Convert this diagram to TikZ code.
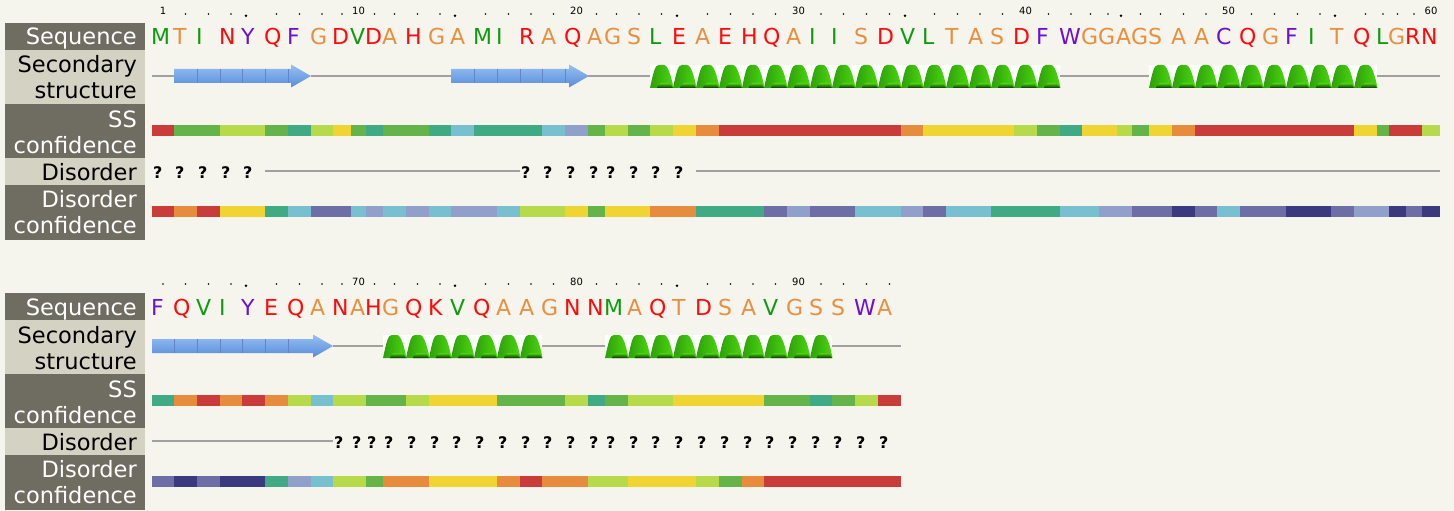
\documentclass[tikz,border=0pt]{standalone}
\usepackage{fontspec}
\setmainfont{DejaVu Sans}
\definecolor{bg}{RGB}{245,244,237}
\definecolor{boxD}{RGB}{111,109,97}
\definecolor{boxL}{RGB}{212,210,195}
\definecolor{cR}{RGB}{201,60,57}
\definecolor{cO}{RGB}{230,140,60}
\definecolor{cY}{RGB}{240,213,50}
\definecolor{cL}{RGB}{182,218,74}
\definecolor{cG}{RGB}{100,180,74}
\definecolor{cT}{RGB}{64,170,132}
\definecolor{cC}{RGB}{120,192,208}
\definecolor{cP}{RGB}{145,160,202}
\definecolor{cV}{RGB}{110,110,166}
\definecolor{cN}{RGB}{60,58,126}
\definecolor{ag}{RGB}{15,155,15}
\definecolor{ao}{RGB}{232,144,64}
\definecolor{ar}{RGB}{255,10,10}
\definecolor{ap}{RGB}{110,15,210}
\definecolor{coilc}{RGB}{160,160,160}
\definecolor{hL}{RGB}{120,248,50}
\definecolor{hM}{RGB}{75,215,15}
\definecolor{hE}{RGB}{45,160,10}
\definecolor{hK}{RGB}{10,50,5}
\definecolor{sT}{RGB}{150,192,242}
\definecolor{sB}{RGB}{88,140,218}
\definecolor{sS}{RGB}{95,135,200}
\tikzset{
 lab/.style={anchor=base east, inner sep=0pt, font=\fontsize{22.5}{27}\selectfont},
 seqch/.style={anchor=base west, inner sep=0pt, font=\fontsize{22}{26}\selectfont},
 tk/.style={anchor=base, inner sep=0pt, font=\fontsize{10}{12}\selectfont},
 dq/.style={anchor=base west, inner sep=0pt, font=\fontsize{16}{19}\selectfont\bfseries},
 coil/.style={draw=coilc, line width=1.2pt},
 sep/.style={draw=sS, line width=0.6pt},
}
\newcommand\helixcell[2]{%
  \pgfmathsetmacro\hw{#2-#1}%
  \fill[white] (#1,65) rectangle (#2,88);
  \shade[left color=hE, middle color=hL, right color=hM]
    (#1,88) .. controls (#1+0.15*\hw,72) and (#1+0.22*\hw,65) .. (#1+0.38*\hw,65)
    -- (#1+0.6*\hw,65) .. controls (#1+0.78*\hw,65) and (#1+0.92*\hw,76) .. (#2+0.5,88) -- cycle;
  \shade[top color=hM, bottom color=hK]
    (#1+0.3*\hw,88) .. controls (#1+0.36*\hw,84) .. (#1+0.48*\hw,83)
    -- (#1+0.82*\hw,83) .. controls (#1+0.92*\hw,84.5) .. (#2,88) -- cycle;
}
\newcommand\strandarrow[2]{%
  \shade[top color=sT, bottom color=sB]
    (#1,69) -- (#2-20,69) -- (#2-20,64.5) -- (#2,76) -- (#2-20,87.5) -- (#2-20,83) -- (#1,83) -- cycle;
}
\newcommand\rowcells[1]{%
 \foreach \i/\xl/\xr/\rl/\rc/\ssc/\dsc/\sst/\dst in {#1}{%
  \pgfmathsetmacro\xc{(\xl+\xr)/2}%
  \fill[c\ssc] (\xl,125) rectangle (\xr,136);
  \fill[c\dsc] (\xl,206) rectangle (\xr,217);
  \node[seqch, text=a\rc] (s\i) at (\xl-1,45) {\rl};
  \pgfmathtruncatemacro\mt{mod(\i,10)}%
  \pgfmathtruncatemacro\mf{mod(\i,5)}%
  \ifnum\mt=0 \node[tk] (t\i) at (\xc,15) {\i};%
  \else\ifnum\i=1 \node[tk] (t\i) at (\xc,15) {1};%
  \else\ifnum\mf=0 \fill (\xl+4,15.7) circle (1.4pt);%
  \else \fill (\xc,14) circle (0.8pt);%
  \fi\fi\fi
  \if c\sst \draw[coil] (\xl+0.3,76) -- (\xr-0.3,76);\fi
  \if h\sst \helixcell{\xl}{\xr}\fi
  \if q\dst \node[dq] (q\i) at (\xl+1,178) {?};\else \draw[coil] (\xl+0.3,171) -- (\xr-0.3,171);\fi
 }}
\newcommand\labelcol[1]{%
  \fill[boxD] (5,23) rectangle (145,50);
  \fill[boxL] (5,50) rectangle (145,104);
  \fill[boxD] (5,104) rectangle (145,158);
  \fill[boxL] (5,158) rectangle (145,185);
  \fill[boxD] (5,185) rectangle (145,240);
  \node[lab, text=white] (#1seq) at (137,45) {Sequence};
  \node[lab, text=black] (#1ssa) at (137,73) {Secondary};
  \node[lab, text=black] (#1ssb) at (137,99) {structure};
  \node[lab, text=white] (#1sca) at (137,127) {SS};
  \node[lab, text=white] (#1scb) at (137,153) {confidence};
  \node[lab, text=black] (#1dis) at (137,180) {Disorder};
  \node[lab, text=white] (#1dca) at (137,207) {Disorder};
  \node[lab, text=white] (#1dcb) at (137,233) {confidence};
}
\begin{document}
\begin{tikzpicture}[x=1pt,y=-1pt]
\useasboundingbox (0,0) rectangle (1454,511);
\fill[bg] (0,0) rectangle (1454,511);
% ---------- block 1 ----------
\begin{scope}
\labelcol{a}
\strandarrow{174}{311}
\foreach \s in {197,220,242,265,288} \draw[sep] (\s,69) -- (\s,83);
\strandarrow{451}{589}
\foreach \s in {474,497,520,542,565} \draw[sep] (\s,69) -- (\s,83);
\rowcells{1/152/174/M/g/R/R/c/q,
2/174/197/T/o/G/O/s/q,
3/197/220/I/g/G/R/s/q,
4/220/242/N/r/L/Y/s/q,
5/242/265/Y/p/L/Y/s/q,
6/265/288/Q/r/G/T/s/l,
7/288/311/F/p/T/C/s/l,
8/311/333/G/o/L/V/c/l,
9/333/351/D/r/Y/V/c/l,
10/351/366/V/g/G/C/c/l,
11/366/383/D/r/T/P/c/l,
12/383/406/A/o/G/C/c/l,
13/406/429/H/r/G/P/c/l,
14/429/451/G/o/T/C/c/l,
15/451/474/A/o/C/P/s/l,
16/474/497/M/g/T/P/s/l,
17/497/520/I/g/T/C/s/l,
18/520/542/R/r/T/L/s/q,
19/542/565/A/o/C/L/s/q,
20/565/588/Q/r/P/Y/s/q,
21/588/605/A/o/G/G/c/q,
22/605/628/G/o/L/Y/c/q,
23/628/650/S/o/G/Y/c/q,
24/650/673/L/g/L/O/h/q,
25/673/696/E/r/Y/O/h/q,
26/696/719/A/o/O/T/h/l,
27/719/742/E/r/R/T/h/l,
28/742/764/H/r/R/T/h/l,
29/764/787/Q/r/R/V/h/l,
30/787/810/A/o/R/P/h/l,
31/810/832/I/g/R/V/h/l,
32/832/855/I/g/R/V/h/l,
33/855/878/S/o/R/C/h/l,
34/878/901/D/r/R/C/h/l,
35/901/923/V/g/O/P/h/l,
36/923/946/L/g/Y/V/h/l,
37/946/969/T/o/Y/C/h/l,
38/969/991/A/o/Y/C/h/l,
39/991/1014/S/o/Y/T/h/l,
40/1014/1037/D/r/L/T/h/l,
41/1037/1060/F/p/G/T/h/l,
42/1060/1082/W/p/T/C/c/l,
43/1082/1099/G/o/Y/C/c/l,
44/1099/1117/G/o/Y/P/c/l,
45/1117/1132/A/o/L/P/c/l,
46/1132/1149/G/o/G/V/c/l,
47/1149/1172/S/o/Y/V/h/l,
48/1172/1195/A/o/O/N/h/l,
49/1195/1217/A/o/R/V/h/l,
50/1217/1240/C/p/R/C/h/l,
51/1240/1263/Q/r/R/V/h/l,
52/1263/1286/G/o/R/V/h/l,
53/1286/1309/F/p/R/N/h/l,
54/1309/1331/I/g/R/N/h/l,
55/1331/1354/T/o/R/V/h/l,
56/1354/1377/Q/r/Y/P/h/l,
57/1377/1389/L/g/G/P/c/l,
58/1389/1406/G/o/R/N/c/l,
59/1406/1422/R/r/R/V/c/l,
60/1422/1440/N/r/L/N/c/l}
\end{scope}
% ---------- block 2 ----------
\begin{scope}[yshift=-270pt]
\labelcol{b}
\strandarrow{152}{333}
\foreach \s in {174,197,220,242,265,288} \draw[sep] (\s,69) -- (\s,83);
\rowcells{61/152/174/F/p/T/V/s/l,
62/174/197/Q/r/O/N/s/l,
63/197/220/V/g/R/V/s/l,
64/220/242/I/g/O/N/s/l,
65/242/265/Y/p/R/N/s/l,
66/265/288/E/r/O/T/s/l,
67/288/311/Q/r/L/P/s/l,
68/311/333/A/o/C/C/s/l,
69/333/351/N/r/L/L/c/q,
70/351/366/A/o/L/L/c/q,
71/366/383/H/r/G/G/c/q,
72/383/406/G/o/G/O/h/q,
73/406/429/Q/r/L/O/h/q,
74/429/451/K/r/Y/Y/h/q,
75/451/474/V/g/Y/Y/h/q,
76/474/497/Q/r/Y/Y/h/q,
77/497/520/A/o/G/O/h/q,
78/520/542/A/o/G/R/h/q,
79/542/565/G/o/G/O/c/q,
80/565/588/N/r/L/O/c/q,
81/588/605/N/r/T/L/c/q,
82/605/628/M/g/G/L/h/q,
83/628/650/A/o/L/Y/h/q,
84/650/673/Q/r/L/Y/h/q,
85/673/696/T/o/Y/Y/h/q,
86/696/719/D/r/Y/L/h/q,
87/719/742/S/o/Y/G/h/q,
88/742/764/A/o/Y/O/h/q,
89/764/787/V/g/G/R/h/q,
90/787/810/G/o/G/R/h/q,
91/810/832/S/o/T/R/h/q,
92/832/855/S/o/G/R/c/q,
93/855/878/W/p/L/R/c/q,
94/878/901/A/o/R/R/c/q}
\end{scope}
\end{tikzpicture}
\end{document}
